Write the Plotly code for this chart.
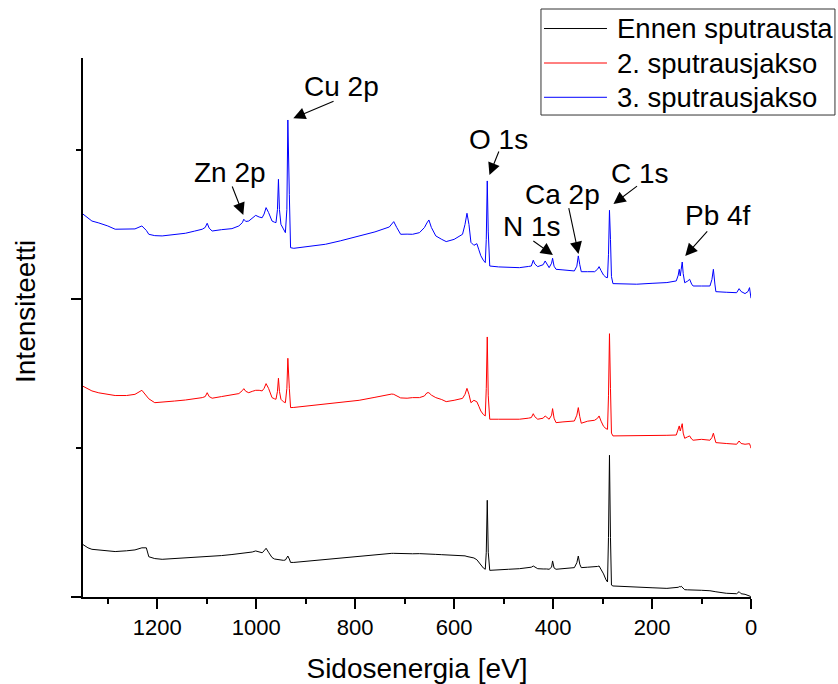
import plotly.graph_objects as go

# Binding energy grid (eV), shared by the three spectra
binding_energy = [
    1351, 1340, 1332, 1318, 1300, 1285, 1262, 1245, 1231, 1222,
    1217, 1205, 1190, 1165, 1143, 1125, 1109, 1103, 1099, 1095,
    1089, 1070, 1049, 1035, 1028, 1025, 1021, 1015, 1008, 1001,
    994, 988, 984, 980, 975, 968, 963, 960, 957, 955,
    953, 950, 945, 941, 938, 936, 933, 930.5, 924, 900,
    860, 830, 792, 760, 731, 726, 722, 716, 708, 695,
    684, 670, 660, 655, 651, 646, 637, 625, 616, 600,
    590, 583, 578, 574, 570, 566, 560, 554, 550, 546,
    541, 537, 535, 533, 531, 528, 510, 490, 468, 450,
    444, 440, 437, 431, 420, 416, 413, 408, 403, 401,
    398, 394, 380, 365, 357, 352, 349, 346, 343, 330,
    316, 310, 307, 303, 298, 293, 290, 288, 286, 284,
    282, 279, 260, 231, 200, 170, 151, 147, 145, 143,
    141, 139, 137, 134, 128, 124, 120, 117, 100, 83,
    79, 76, 73, 71, 50, 29, 24, 20, 12, 6,
    3, 1, 0,
]

# Intensities (offset, arbitrary units)
ennen_sputrausta = [
    0.354, 0.330, 0.320, 0.315, 0.310, 0.305, 0.310, 0.316, 0.330, 0.330,
    0.270, 0.258, 0.253, 0.258, 0.262, 0.265, 0.268, 0.270, 0.272, 0.270,
    0.272, 0.278, 0.285, 0.290, 0.292, 0.295, 0.295, 0.298, 0.302, 0.309,
    0.305, 0.297, 0.310, 0.327, 0.300, 0.265, 0.255, 0.253, 0.252, 0.250,
    0.250, 0.248, 0.246, 0.248, 0.265, 0.275, 0.255, 0.232, 0.232, 0.240,
    0.253, 0.262, 0.275, 0.285, 0.292, 0.293, 0.293, 0.292, 0.291, 0.290,
    0.290, 0.291, 0.291, 0.290, 0.290, 0.288, 0.286, 0.284, 0.283, 0.282,
    0.280, 0.278, 0.276, 0.272, 0.268, 0.265, 0.262, 0.250, 0.232, 0.215,
    0.195, 0.186, 0.300, 0.649, 0.300, 0.179, 0.180, 0.186, 0.190, 0.195,
    0.200, 0.208, 0.200, 0.190, 0.188, 0.190, 0.188, 0.186, 0.200, 0.242,
    0.195, 0.186, 0.190, 0.195, 0.197, 0.230, 0.275, 0.220, 0.197, 0.200,
    0.201, 0.205, 0.208, 0.185, 0.155, 0.115, 0.101, 0.400, 0.951, 0.400,
    0.080, 0.074, 0.070, 0.067, 0.062, 0.058, 0.060, 0.065, 0.070, 0.068,
    0.072, 0.066, 0.055, 0.049, 0.048, 0.047, 0.046, 0.045, 0.045, 0.042,
    0.041, 0.040, 0.038, 0.035, 0.025, 0.022, 0.036, 0.022, 0.018, 0.012,
    0.008, 0.004, 0.000,
]

sputrausjakso_2 = [
    1.416, 1.395, 1.383, 1.370, 1.360, 1.352, 1.352, 1.360, 1.387, 1.345,
    1.330, 1.304, 1.310, 1.315, 1.322, 1.330, 1.338, 1.345, 1.371, 1.345,
    1.334, 1.345, 1.355, 1.365, 1.385, 1.398, 1.380, 1.371, 1.380, 1.387,
    1.387, 1.383, 1.400, 1.432, 1.400, 1.338, 1.330, 1.327, 1.380, 1.468,
    1.380, 1.327, 1.310, 1.304, 1.400, 1.602, 1.400, 1.271, 1.272, 1.280,
    1.293, 1.305, 1.320, 1.340, 1.360, 1.362, 1.360, 1.350, 1.336, 1.334,
    1.338, 1.338, 1.349, 1.370, 1.371, 1.355, 1.338, 1.325, 1.311, 1.320,
    1.330, 1.333, 1.360, 1.400, 1.360, 1.304, 1.320, 1.310, 1.280, 1.248,
    1.225, 1.215, 1.400, 1.745, 1.350, 1.193, 1.193, 1.193, 1.193, 1.200,
    1.204, 1.230, 1.210, 1.193, 1.200, 1.215, 1.205, 1.193, 1.220, 1.264,
    1.200, 1.170, 1.175, 1.178, 1.181, 1.220, 1.271, 1.210, 1.166, 1.180,
    1.186, 1.200, 1.215, 1.180, 1.145, 1.130, 1.125, 1.350, 1.767, 1.400,
    1.100, 1.081, 1.081, 1.081, 1.083, 1.085, 1.087, 1.120, 1.148, 1.114,
    1.140, 1.163, 1.100, 1.065, 1.075, 1.081, 1.060, 1.052, 1.058, 1.052,
    1.070, 1.099, 1.060, 1.036, 1.030, 1.025, 1.047, 1.030, 1.025, 1.028,
    1.029, 1.010, 0.998,
]

sputrausjakso_3 = [
    2.572, 2.545, 2.523, 2.510, 2.490, 2.468, 2.470, 2.470, 2.490, 2.460,
    2.434, 2.425, 2.423, 2.430, 2.441, 2.455, 2.468, 2.480, 2.508, 2.475,
    2.456, 2.465, 2.472, 2.490, 2.512, 2.535, 2.520, 2.523, 2.540, 2.561,
    2.550, 2.545, 2.570, 2.613, 2.580, 2.523, 2.515, 2.512, 2.600, 2.803,
    2.600, 2.501, 2.470, 2.445, 2.600, 3.201, 2.700, 2.344, 2.340, 2.350,
    2.367, 2.390, 2.423, 2.450, 2.483, 2.500, 2.519, 2.480, 2.434, 2.435,
    2.434, 2.445, 2.479, 2.510, 2.530, 2.480, 2.423, 2.400, 2.385, 2.400,
    2.420, 2.434, 2.500, 2.575, 2.500, 2.380, 2.360, 2.371, 2.330, 2.290,
    2.260, 2.244, 2.400, 2.792, 2.450, 2.221, 2.215, 2.212, 2.210, 2.218,
    2.221, 2.260, 2.235, 2.217, 2.230, 2.255, 2.235, 2.210, 2.240, 2.273,
    2.220, 2.199, 2.195, 2.190, 2.188, 2.220, 2.289, 2.230, 2.183, 2.183,
    2.183, 2.200, 2.217, 2.190, 2.160, 2.145, 2.143, 2.300, 2.595, 2.400,
    2.150, 2.103, 2.100, 2.099, 2.105, 2.110, 2.121, 2.160, 2.199, 2.154,
    2.200, 2.248, 2.170, 2.109, 2.120, 2.132, 2.100, 2.087, 2.087, 2.087,
    2.130, 2.199, 2.100, 2.049, 2.045, 2.042, 2.069, 2.050, 2.036, 2.050,
    2.076, 2.030, 2.005,
]

series_names = ["Ennen sputrausta", "2. sputrausjakso", "3. sputrausjakso"]
series_colors = ["#000000", "#FF0000", "#0000FF"]

# Peak labels: text, arrow head (E, I), arrow tail (E, I), text centre (E, I)
peak_labels = ["Cu 2p", "Zn 2p", "O 1s", "Ca 2p", "N 1s", "C 1s", "Pb 4f"]
head_E = [925, 1026, 528.6, 348.6, 400.4, 277.9, 132.9]
head_I = [3.213, 2.564, 2.832, 2.302, 2.295, 2.638, 2.289]
tail_E = [840.6, 1049.6, 508.4, 368.9, 442.9, 227.3, 85.7]
tail_I = [3.331, 2.765, 3.000, 2.619, 2.396, 2.765, 2.463]
text_E = [827, 1053, 510.4, 380.2, 442.9, 223.9, 66.7]
text_I = [3.425, 2.846, 3.072, 2.703, 2.485, 2.839, 2.557]

FONT = "Liberation Sans, Arial, sans-serif"

fig = go.Figure()
for name, color, vals in zip(series_names, series_colors,
                             [ennen_sputrausta, sputrausjakso_2, sputrausjakso_3]):
    fig.add_trace(go.Scatter(
        x=binding_energy, y=vals, mode="lines", name=name,
        line=dict(color=color, width=1), showlegend=False,
    ))

annotations = []
for lab, hx, hy, tx, ty, sx, sy in zip(peak_labels, head_E, head_I, tail_E, tail_I, text_E, text_I):
    annotations.append(dict(
        x=hx, y=hy, ax=tx, ay=ty, xref="x", yref="y", axref="x", ayref="y",
        text="", showarrow=True, arrowhead=2, arrowsize=2.2, arrowwidth=1.1,
        arrowcolor="black", standoff=0, startstandoff=0,
    ))
    annotations.append(dict(
        x=sx, y=sy, xref="x", yref="y", text=lab, showarrow=False,
        font=dict(family=FONT, size=28, color="black"),
        xanchor="center", yanchor="middle",
    ))

# y-axis title placed as rotated text
annotations.append(dict(
    x=-0.0853, y=0.5288, xref="paper", yref="paper", text="Intensiteetti",
    textangle=-90, showarrow=False, xanchor="center", yanchor="middle",
    font=dict(family=FONT, size=28, color="black"),
))

# Legend drawn as a framed box (paper coordinates)
legend_box = dict(x0=0.6856, x1=1.1257, y0=0.8942, y1=1.0909)
legend_rows_y = [1.0547, 0.9907, 0.9271]
legend_line_x = (0.6901, 0.7844)
legend_text_x = 0.7964

shapes = [dict(
    type="rect", xref="paper", yref="paper",
    x0=legend_box["x0"], x1=legend_box["x1"], y0=legend_box["y0"], y1=legend_box["y1"],
    fillcolor="white", line=dict(color="#333333", width=1), layer="above",
)]
for name, color, ry in zip(series_names, series_colors, legend_rows_y):
    shapes.append(dict(
        type="line", xref="paper", yref="paper",
        x0=legend_line_x[0], x1=legend_line_x[1], y0=ry, y1=ry,
        line=dict(color=color, width=1), layer="above",
    ))
    annotations.append(dict(
        x=legend_text_x, y=ry, xref="paper", yref="paper", text=name,
        showarrow=False, xanchor="left", yanchor="middle",
        font=dict(family=FONT, size=27.5, color="black"),
    ))

fig.update_layout(
    width=838, height=684,
    margin=dict(l=83, r=87, t=58, b=87),
    paper_bgcolor="white", plot_bgcolor="white",
    font=dict(family=FONT, color="black"),
    showlegend=False,
    annotations=annotations,
    shapes=shapes,
    xaxis=dict(
        range=[1350, 0], showgrid=False, zeroline=False,
        showline=True, linecolor="black", linewidth=2,
        ticks="outside", ticklen=10, tickwidth=2, tickcolor="black",
        tick0=0, dtick=200,
        minor=dict(ticks="outside", ticklen=5, tickwidth=2, tickcolor="black", dtick=100, tick0=0),
        tickfont=dict(family=FONT, size=22, color="black"),
        title=dict(text="Sidosenergia [eV]", font=dict(family=FONT, size=28, color="black"), standoff=20),
        automargin=False,
    ),
    yaxis=dict(
        range=[0, 3.617], showgrid=False, zeroline=False,
        showline=True, linecolor="black", linewidth=2,
        ticks="outside", ticklen=10, tickwidth=2, tickcolor="black",
        tick0=0, dtick=2, showticklabels=False,
        minor=dict(ticks="outside", ticklen=5, tickwidth=2, tickcolor="black", dtick=1, tick0=0),
        automargin=False,
    ),
)

fig.write_html("out.html", config={"displayModeBar": False},
               post_script="document.body.style.margin='0px';")
